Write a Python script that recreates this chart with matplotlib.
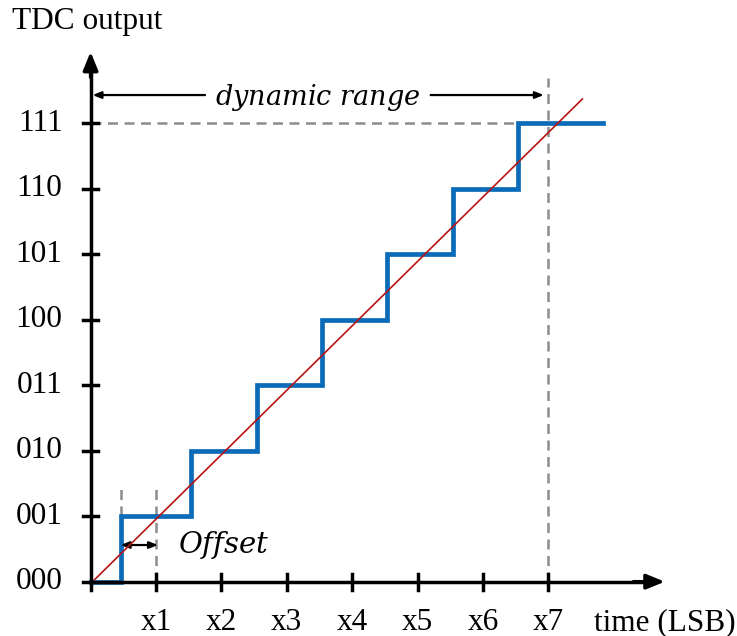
import numpy as np
import matplotlib as mpl
import matplotlib.pyplot as plt

mpl.rcParams['font.family'] = ['Liberation Serif', 'DejaVu Serif']
mpl.rcParams['mathtext.fontset'] = 'dejavuserif'

# data
codes = ['000', '001', '010', '011', '100', '101', '110', '111']
xlabels = ['x1', 'x2', 'x3', 'x4', 'x5', 'x6', 'x7']
step_edges = [0.46, 1.54, 2.54, 3.54, 4.54, 5.54, 6.54]
step_end = 7.84
ideal_x = [0.06, 7.52]
ideal_y = [0.03, 7.37]

blue = '#0a6cb8'
red = '#b81414'
grey = '#8c8c8c'
fs = 22.5

fig = plt.figure(figsize=(7.37, 6.36), dpi=100)
ax = fig.add_axes([0, 0, 1, 1])
ax.set_xlim(-1.385, 9.884)
ax.set_ylim(-0.829, 8.881)
ax.axis('off')

# dashed guide lines
dash = dict(color=grey, lw=1.8, ls=(0, (4, 2.6)), zorder=1)
ax.plot([0, 7.6], [7, 7], **dash)
ax.plot([7, 7], [0, 7.69], **dash)
ax.plot([step_edges[0]] * 2, [0, 1.5], **dash)
ax.plot([1, 1], [0, 1.5], **dash)

# transfer curve
sx = [0]
sy = [0]
for i, e in enumerate(step_edges):
    sx += [e, e]
    sy += [i, i + 1]
sx.append(step_end)
sy.append(len(step_edges))
ax.plot(sx, sy, color=blue, lw=3.4, solid_joinstyle='miter', zorder=3)
ax.plot(ideal_x, ideal_y, color=red, lw=1.2, zorder=4)

# axes with arrows
ax.plot([0, 0], [-0.12, 7.9], color='black', lw=2.5, zorder=5)
ax.plot([-0.12, 8.6], [0, 0], color='black', lw=2.5, zorder=5)
ax.annotate('', xy=(0, 8.09), xytext=(0, 7.7),
            arrowprops=dict(arrowstyle='-|>,head_length=1.1,head_width=0.45',
                            color='black', lw=2.5, shrinkA=0, shrinkB=0), zorder=6)
ax.annotate('', xy=(8.78, 0), xytext=(8.3, 0),
            arrowprops=dict(arrowstyle='-|>,head_length=1.1,head_width=0.45',
                            color='black', lw=2.5, shrinkA=0, shrinkB=0), zorder=6)

# ticks
for i in range(1, len(codes)):
    ax.plot([-0.12, 0.12], [i, i], color='black', lw=2.5, zorder=5)
for i in range(1, len(xlabels) + 1):
    ax.plot([i, i], [-0.12, 0.12], color='black', lw=2.5, zorder=5)

for i, c in enumerate(codes):
    ax.text(-0.43, i, c, ha='right', va='center', fontsize=fs)
for i, lab in enumerate(xlabels):
    ax.text(i + 1, -0.62, lab, ha='center', va='center', fontsize=fs)
ax.text(7.7, -0.62, 'time (LSB)', ha='left', va='center', fontsize=fs)
ax.text(-1.2, 8.55, 'TDC output', ha='left', va='center', fontsize=fs)

# dynamic range annotation
yd = 7.43
arr = dict(arrowstyle='-|>,head_length=0.5,head_width=0.2', color='black',
           lw=1.6, shrinkA=0, shrinkB=0)
ax.annotate('', xy=(0.03, yd), xytext=(1.75, yd), arrowprops=arr)
ax.annotate('', xy=(6.93, yd), xytext=(5.2, yd), arrowprops=arr)
ax.text(3.47, yd - 0.03, r'$dynamic\ range$', ha='center', va='center', fontsize=19.5)

# offset annotation
yo = 0.56
ax.annotate('', xy=(step_edges[0], yo), xytext=(1.03, yo),
            arrowprops=dict(arrowstyle='<|-|>,head_length=0.5,head_width=0.2',
                            color='black', lw=1.6, shrinkA=0, shrinkB=0))
ax.text(2.03, yo, r'$Offset$', ha='center', va='center', fontsize=21)

fig.savefig('out.png', dpi=100)
